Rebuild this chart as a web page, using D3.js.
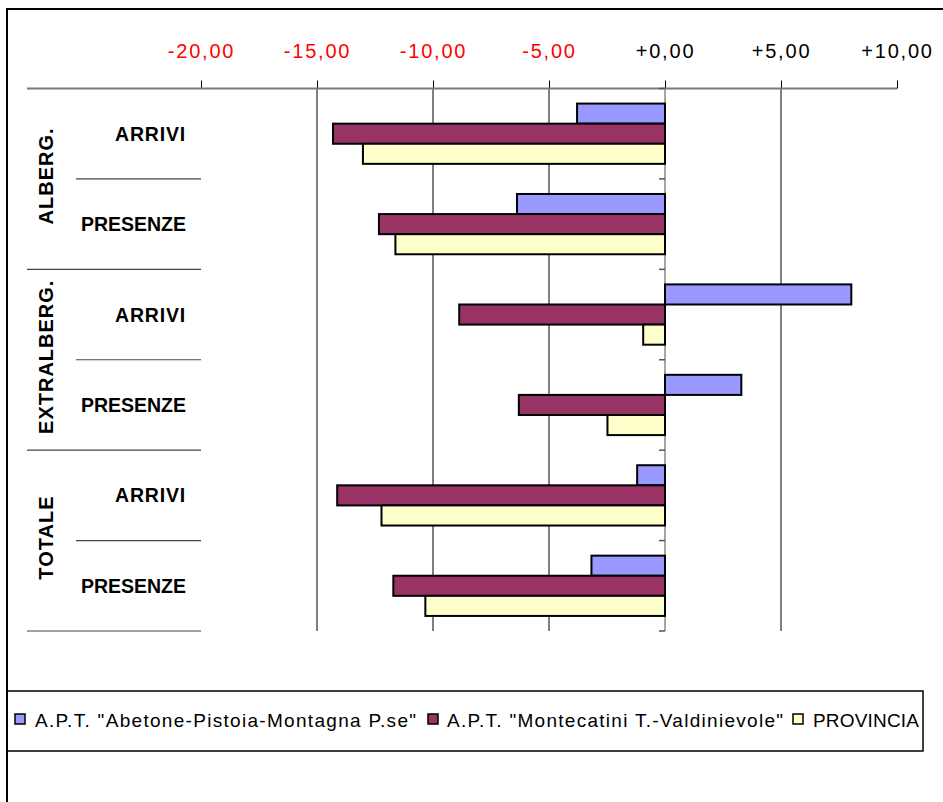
<!DOCTYPE html>
<html>
<head>
<meta charset="utf-8">
<script src="https://cdn.jsdelivr.net/npm/d3@7"></script>
<style>
  html, body { margin: 0; padding: 0; background: #fff; }
  svg { display: block; font-family: "Liberation Sans", Arial, sans-serif; }
</style>
</head>
<body>
<svg id="chart" width="943" height="802"></svg>
<script>
// ---- data ----
const groups = ["ALBERG.", "EXTRALBERG.", "TOTALE"];
const measures = ["ARRIVI", "PRESENZE"];
const seriesNames = ['A.P.T. "Abetone-Pistoia-Montagna P.se"', 'A.P.T. "Montecatini T.-Valdinievole"', 'PROVINCIA'];
const abetone     = [-3.79, -6.38,  8.03,  3.29,  -1.20,  -3.17];
const montecatini = [-14.31, -12.33, -8.87, -6.30, -14.13, -11.71];
const provincia   = [-13.02, -11.62, -0.94, -2.48, -12.22, -10.33];
const tickValues  = [-20, -15, -10, -5, 0, 5, 10];
const seriesColors = ["#9999FF", "#993366", "#FFFFCC"];

// ---- build ----
const rows = [];
groups.forEach((g, gi) => measures.forEach((m, mi) => rows.push({ key: g + "|" + m, group: g, measure: m, idx: gi * 2 + mi })));
const seriesValues = [abetone, montecatini, provincia];

const svg = d3.select("#chart");
const axisY = 88.5;
const plotBottom = 631;

const x = d3.scaleLinear().domain([-20, 10]).range([201, 897]);
const y0 = d3.scaleBand().domain(rows.map(r => r.key)).range([axisY, plotBottom]).paddingInner(0).paddingOuter(0);
const y1 = d3.scaleBand().domain(seriesNames).range([0, y0.bandwidth()]).paddingInner(0).paddingOuter(0.75);

// outer border
svg.append("rect").attr("x", 7).attr("y", 9).attr("width", 980).attr("height", 830)
  .attr("fill", "none").attr("stroke", "#000").attr("stroke-width", 2);

// gridlines (interior ticks except 0)
svg.append("g").selectAll("line")
  .data(tickValues.filter(v => v !== 0 && v !== tickValues[0] && v !== tickValues[tickValues.length - 1]))
  .join("line")
  .attr("x1", d => x(d)).attr("x2", d => x(d))
  .attr("y1", axisY).attr("y2", plotBottom)
  .attr("stroke", "#000").attr("stroke-width", 1);

// top value axis
const fmt = d => (d >= 0 ? "+" : "") + d.toFixed(2).replace(".", ",");
const gx = svg.append("g").attr("transform", `translate(0,${axisY})`)
  .call(d3.axisTop(x).tickValues(tickValues).tickSize(8).tickPadding(23).tickFormat(fmt));
gx.select(".domain").remove();
gx.selectAll(".tick line").attr("stroke", "#000").attr("stroke-width", 1);
gx.selectAll(".tick text")
  .attr("font-size", 20)
  .attr("font-family", '"Liberation Sans", Arial, sans-serif')
  .attr("letter-spacing", "1.8px")
  .attr("fill", d => d < 0 ? "#FF0000" : "#000");
svg.append("line").attr("x1", 27).attr("x2", x(10)).attr("y1", axisY).attr("y2", axisY)
  .attr("stroke", "#777").attr("stroke-width", 2);

// category axis at zero
svg.append("line").attr("x1", x(0)).attr("x2", x(0)).attr("y1", axisY).attr("y2", plotBottom)
  .attr("stroke", "#888").attr("stroke-width", 1.5);
const boundaries = rows.map(r => y0(r.key)).concat([plotBottom]);
svg.append("g").selectAll("line").data(boundaries).join("line")
  .attr("x1", x(0) - 6).attr("x2", x(0)).attr("y1", d => d).attr("y2", d => d)
  .attr("stroke", "#555").attr("stroke-width", 1.5);

// bars
const barData = [];
rows.forEach(r => seriesNames.forEach((s, si) => barData.push({ row: r, s, si, v: seriesValues[si][r.idx] })));
svg.append("g").selectAll("rect").data(barData).join("rect")
  .attr("x", d => x(Math.min(0, d.v)))
  .attr("width", d => Math.abs(x(d.v) - x(0)))
  .attr("y", d => y0(d.row.key) + y1(d.s))
  .attr("height", y1.bandwidth())
  .attr("fill", d => seriesColors[d.si])
  .attr("stroke", "#000").attr("stroke-width", 2);

// category labels (inner)
svg.append("g").selectAll("text").data(rows).join("text")
  .attr("x", 186)
  .attr("y", d => y0(d.key) + y0.bandwidth() / 2 + 7)
  .attr("text-anchor", "end")
  .attr("font-size", 19.5).attr("font-weight", "bold")
  .attr("letter-spacing", d => d.measure === "ARRIVI" ? "0.8px" : "0px")
  .text(d => d.measure);

// inner dividers (between measures)
svg.append("g").selectAll("line").data(rows.filter(r => r.measure === measures[0])).join("line")
  .attr("x1", 76).attr("x2", x(-20))
  .attr("y1", d => y0(d.key) + y0.bandwidth()).attr("y2", d => y0(d.key) + y0.bandwidth())
  .attr("stroke", "#444").attr("stroke-width", 1.2);
// outer dividers (after each group)
svg.append("g").selectAll("line").data(rows.filter(r => r.measure === measures[measures.length - 1])).join("line")
  .attr("x1", 27).attr("x2", x(-20))
  .attr("y1", d => y0(d.key) + y0.bandwidth()).attr("y2", d => y0(d.key) + y0.bandwidth())
  .attr("stroke", "#444").attr("stroke-width", 1.2);

// group labels (rotated)
svg.append("g").selectAll("text").data(groups).join("text")
  .attr("transform", g => {
    const first = y0(g + "|" + measures[0]);
    const last = y0(g + "|" + measures[measures.length - 1]) + y0.bandwidth();
    return `translate(53,${(first + last) / 2 - 3}) rotate(-90)`;
  })
  .attr("text-anchor", "middle")
  .attr("font-size", 20).attr("font-weight", "bold")
  .attr("letter-spacing", "1px")
  .text(g => g);

// legend
svg.append("rect").attr("x", 7).attr("y", 691).attr("width", 916).attr("height", 60)
  .attr("fill", "none").attr("stroke", "#000").attr("stroke-width", 1.5);
const legendSquareX = [15, 428, 793];
const legendTextX = [35, 447, 813];
const legendTextLen = [381, 336, 106];
const lg = svg.append("g").selectAll("g").data(seriesNames).join("g");
lg.append("rect")
  .attr("x", (d, i) => legendSquareX[i]).attr("y", 714)
  .attr("width", 10).attr("height", 10)
  .attr("fill", (d, i) => seriesColors[i]).attr("stroke", "#000").attr("stroke-width", 1.5);
lg.append("text")
  .attr("x", (d, i) => legendTextX[i]).attr("y", 727)
  .attr("font-size", 19)
  .attr("textLength", (d, i) => legendTextLen[i])
  .attr("lengthAdjust", "spacing")
  .text(d => d);
</script>
</body>
</html>
